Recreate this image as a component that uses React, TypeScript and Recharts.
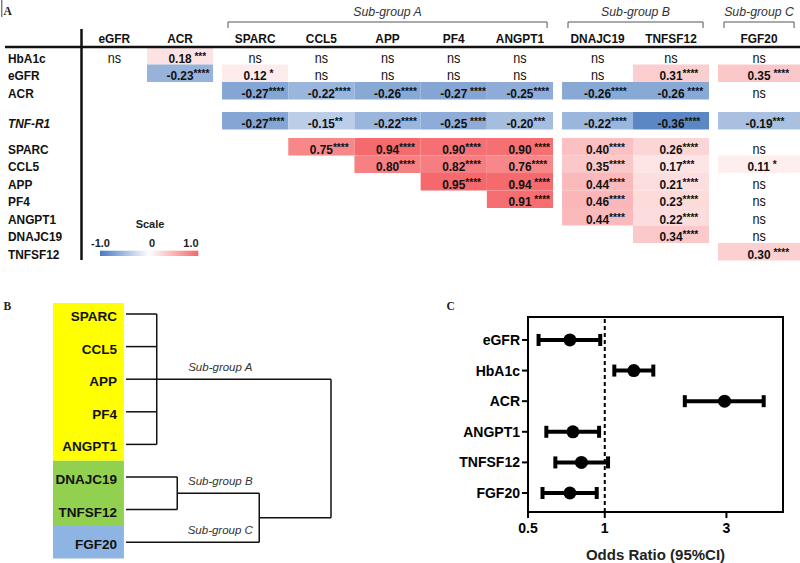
import React from 'react';
import { ScatterChart, Scatter, XAxis, YAxis, ReferenceArea, ReferenceLine, ErrorBar } from 'recharts';

const FONT = '"Liberation Sans", Arial, Helvetica, sans-serif';
const SERIF = '"Liberation Serif", "Times New Roman", serif';

// ================= Panel A data =================
const heatCols = ['eGFR', 'ACR', 'SPARC', 'CCL5', 'APP', 'PF4', 'ANGPT1', 'DNAJC19', 'TNFSF12', 'FGF20'];
const heatRows = ['HbA1c', 'eGFR', 'ACR', 'TNF-R1', 'SPARC', 'CCL5', 'APP', 'PF4', 'ANGPT1', 'DNAJC19', 'TNFSF12'];
const italicRows = ['TNF-R1'];
const subGroupTitles = ['Sub-group A', 'Sub-group B', 'Sub-group C'];
const subGroupFirstCol = ['SPARC', 'DNAJC19', 'FGF20'];
const subGroupLastCol = ['ANGPT1', 'TNFSF12', 'FGF20'];

// correlation coefficients (null = no coefficient shown)
const corrValues: (number | null)[][] = [
  [null, 0.18, null, null, null, null, null, null, null, null],
  [null, -0.23, 0.12, null, null, null, null, null, 0.31, 0.35],
  [null, null, -0.27, -0.22, -0.26, -0.27, -0.25, -0.26, -0.26, null],
  [null, null, -0.27, -0.15, -0.22, -0.25, -0.2, -0.22, -0.36, -0.19],
  [null, null, null, 0.75, 0.94, 0.9, 0.9, 0.4, 0.26, null],
  [null, null, null, null, 0.8, 0.82, 0.76, 0.35, 0.17, 0.11],
  [null, null, null, null, null, 0.95, 0.94, 0.44, 0.21, null],
  [null, null, null, null, null, null, 0.91, 0.46, 0.23, null],
  [null, null, null, null, null, null, null, 0.44, 0.22, null],
  [null, null, null, null, null, null, null, null, 0.34, null],
  [null, null, null, null, null, null, null, null, null, 0.3],
];
// significance marks ('' = empty cell, 'ns' = not significant)
const sigMarks: string[][] = [
  ['ns', ' ***', 'ns', 'ns', 'ns', 'ns', 'ns', 'ns', 'ns', 'ns'],
  ['', '****', ' *', 'ns', 'ns', 'ns', 'ns', 'ns', '****', ' ****'],
  ['', '', '****', '****', '****', ' ****', '****', '****', ' ****', 'ns'],
  ['', '', '****', '**', '****', ' ****', '***', '****', '****', '***'],
  ['', '', '', '****', '****', '****', ' ****', '****', '****', 'ns'],
  ['', '', '', '', '****', '****', '****', '****', '***', ' *'],
  ['', '', '', '', '', '****', ' ****', '****', '****', 'ns'],
  ['', '', '', '', '', '', ' ****', '****', '****', 'ns'],
  ['', '', '', '', '', '', '', '****', '****', 'ns'],
  ['', '', '', '', '', '', '', '', '****', 'ns'],
  ['', '', '', '', '', '', '', '', '', ' ****'],
];
const scaleTicks = ['-1.0', '0', '1.0'];

// ================= Panel B data =================
const dendroLeaves = ['SPARC', 'CCL5', 'APP', 'PF4', 'ANGPT1', 'DNAJC19', 'TNFSF12', 'FGF20'];
const leafSubgroup = ['A', 'A', 'A', 'A', 'A', 'B', 'B', 'C'];
const subgroupKeys = ['A', 'B', 'C'];
const subgroupNodes = ['A', 'B', 'FGF20'];
const clusterIds = ['A', 'B', 'BC', 'root'];
const clusterMembers = [
  ['SPARC', 'CCL5', 'APP', 'PF4', 'ANGPT1'],
  ['DNAJC19', 'TNFSF12'],
  ['B', 'FGF20'],
  ['A', 'BC'],
];
const clusterHeights = [0.15, 0.25, 0.65, 1.0];

// ================= Panel C data =================
const forestVars = ['eGFR', 'HbA1c', 'ACR', 'ANGPT1', 'TNFSF12', 'FGF20'];
const oddsRatio = [0.73, 1.3, 2.95, 0.75, 0.81, 0.73];
const ciLow = [0.55, 1.09, 2.06, 0.59, 0.64, 0.57];
const ciHigh = [0.96, 1.55, 4.2, 0.95, 1.03, 0.93];
const forestTicks = [0.5, 1, 3];

// ================= styles / layout =================
const BLUE = [74, 122, 191];
const RED = [245, 104, 107];
function corrColor(r: number) {
  const t = r < 0 ? Math.min(1, -r * 2.5) : Math.min(1, r * 1.05);
  const c = r < 0 ? BLUE : RED;
  const m = c.map((v) => Math.round(255 + (v - 255) * t));
  return `rgb(${m.join(',')})`;
}
function numEm(s: string) {
  let w = 0;
  for (const ch of s) w += ch === '.' ? 0.278 : ch === '-' ? 0.333 : 0.556;
  return w;
}

const A_W = 800;
const A_H = 270;
const UX = 66.2; // px per column unit
const UY = 17.5; // px per row unit
const COL_W_U = [0.99, 0.997, 1, 1, 1, 1, 1, 1.072, 1.148, 1.239];
const GROUP_GAP_U = 0.136;
const FIRST_COL_U = 81.5 / UX;
const FIRST_ROW_U = 47 / UY;
const ROW_GAP_U: Record<number, number> = { 3: 0.714, 4: 0.486 };
const SX = 0.88;

function HeatmapPanel() {
  const gapCols = subGroupFirstCol.map((c) => heatCols.indexOf(c));
  const colStart: number[] = [];
  let x = FIRST_COL_U;
  heatCols.forEach((_, i) => {
    if (gapCols.includes(i)) x += GROUP_GAP_U;
    colStart.push(x);
    x += COL_W_U[i];
  });
  const colEnd = colStart.map((s, i) => s + COL_W_U[i]);
  const colMid = colStart.map((s, i) => (s + colEnd[i]) / 2);
  const rowTop: number[] = [];
  let y = FIRST_ROW_U;
  heatRows.forEach((_, i) => {
    if (ROW_GAP_U[i]) y += ROW_GAP_U[i];
    rowTop.push(y);
    y += 1;
  });
  const rowMid = rowTop.map((t) => t + 0.5);

  const cells: { r: number | null; sig: string; ri: number; ci: number }[] = [];
  heatRows.forEach((_, ri) =>
    heatCols.forEach((__, ci) => {
      const sig = sigMarks[ri][ci];
      if (sig !== '') cells.push({ r: corrValues[ri][ci], sig, ri, ci });
    })
  );

  const headerPts = heatCols.map((name, i) => ({ x: colMid[i], y: 43.3 / UY, name }));
  const rowPts = heatRows.map((name, i) => ({ x: 8 / UX, y: rowMid[i], name }));
  const titlePts = subGroupTitles.map((name, k) => {
    const a = heatCols.indexOf(subGroupFirstCol[k]);
    const b = heatCols.indexOf(subGroupLastCol[k]);
    return { x: (colStart[a] + colEnd[b]) / 2, y: 16 / UY, name, a, b };
  });
  const brTop = 22 / UY;
  const brBot = 28 / UY;
  const inset = 0.09;

  const cellShape = (c: { r: number | null; sig: string }) => (p: any) => {
    const cx = p.x + p.width / 2;
    const base = p.y + p.height / 2 + 6.8;
    if (c.r === null) {
      return (
        <text
          transform={`translate(${cx},${base}) scale(0.9,1)`}
          textAnchor="middle"
          fontFamily={FONT}
          fontSize={14}
          fill="#111"
        >
          {c.sig}
        </text>
      );
    }
    const num = c.r.toFixed(2);
    const w = numEm(num) * 13.5 * SX;
    return (
      <g>
        <rect x={p.x} y={p.y} width={p.width} height={p.height} fill={corrColor(c.r)} />
        <text
          transform={`translate(${cx - w / 2},${base}) scale(${SX},1)`}
          fontFamily={FONT}
          fontSize={13.5}
          fontWeight={700}
          fill="#111"
          style={{ whiteSpace: 'pre' }}
        >
          {num}
          <tspan fontSize={11.5} dy={-3}>
            {c.sig}
          </tspan>
        </text>
      </g>
    );
  };

  return (
    <ScatterChart width={A_W} height={A_H} margin={{ top: 0, right: 0, bottom: 0, left: 0 }}>
      <XAxis type="number" dataKey="x" domain={[0, A_W / UX]} hide allowDataOverflow />
      <YAxis type="number" dataKey="y" domain={[0, A_H / UY]} hide reversed allowDataOverflow />
      {cells.map((c) => (
        <ReferenceArea
          key={`c${c.ri}-${c.ci}`}
          x1={colStart[c.ci]}
          x2={colEnd[c.ci]}
          y1={rowTop[c.ri]}
          y2={rowTop[c.ri] + 1}
          ifOverflow="visible"
          shape={cellShape(c)}
        />
      ))}
      {titlePts.map((t) => (
        <ReferenceLine
          key={`bt${t.name}`}
          segment={[
            { x: colStart[t.a] + inset, y: brTop },
            { x: colEnd[t.b] - inset, y: brTop },
          ]}
          stroke="#555"
          strokeWidth={1}
          ifOverflow="visible"
        />
      ))}
      {titlePts.map((t) => (
        <ReferenceLine
          key={`bl${t.name}`}
          segment={[
            { x: colStart[t.a] + inset, y: brTop },
            { x: colStart[t.a] + inset, y: brBot },
          ]}
          stroke="#555"
          strokeWidth={1}
          ifOverflow="visible"
        />
      ))}
      {titlePts.map((t) => (
        <ReferenceLine
          key={`br${t.name}`}
          segment={[
            { x: colEnd[t.b] - inset, y: brTop },
            { x: colEnd[t.b] - inset, y: brBot },
          ]}
          stroke="#555"
          strokeWidth={1}
          ifOverflow="visible"
        />
      ))}
      <ReferenceLine
        segment={[
          { x: 5 / UX, y: FIRST_ROW_U },
          { x: A_W / UX, y: FIRST_ROW_U },
        ]}
        stroke="#111"
        strokeWidth={2.5}
        ifOverflow="visible"
      />
      <ReferenceLine
        segment={[
          { x: FIRST_COL_U, y: 29 / UY },
          { x: FIRST_COL_U, y: 260 / UY },
        ]}
        stroke="#111"
        strokeWidth={2.5}
        ifOverflow="visible"
      />
      <Scatter
        data={headerPts}
        isAnimationActive={false}
        shape={(p: any) => (
          <text
            transform={`translate(${p.cx},${p.cy}) scale(${SX},1)`}
            textAnchor="middle"
            fontFamily={FONT}
            fontSize={13.5}
            fontWeight={700}
            fill="#111"
          >
            {p.payload.name}
          </text>
        )}
      />
      <Scatter
        data={rowPts}
        isAnimationActive={false}
        shape={(p: any) => (
          <text
            transform={`translate(${p.cx},${p.cy + 6.8}) scale(${SX},1)`}
            fontFamily={FONT}
            fontSize={13.5}
            fontWeight={700}
            fontStyle={italicRows.includes(p.payload.name) ? 'italic' : 'normal'}
            fill="#111"
          >
            {p.payload.name}
          </text>
        )}
      />
      <Scatter
        data={titlePts}
        isAnimationActive={false}
        shape={(p: any) => (
          <text
            x={p.cx}
            y={p.cy}
            textAnchor="middle"
            fontFamily={FONT}
            fontSize={12.3}
            fontStyle="italic"
            fill="#333"
          >
            {p.payload.name}
          </text>
        )}
      />
    </ScatterChart>
  );
}

// ================= Panel B =================
const B_W = 400;
const B_H = 273;
const LEAF_STEP = 32.6;
const FIRST_LEAF_PX = 24;
const BOX_X0 = -0.356;
const BOX_X1 = -0.01;
const SUBGROUP_COLORS: Record<string, string> = { A: '#ffff00', B: '#92d050', C: '#8db4e2' };

function DendroPanel() {
  const nodeY: Record<string, number> = {};
  const nodeH: Record<string, number> = {};
  dendroLeaves.forEach((n, i) => {
    nodeY[n] = i;
    nodeH[n] = 0;
  });
  clusterIds.forEach((id, k) => {
    const ys = clusterMembers[k].map((m) => nodeY[m]);
    nodeY[id] = ys.reduce((a, b) => a + b, 0) / ys.length;
    nodeH[id] = clusterHeights[k];
  });
  const segs: { x: number; y: number }[][] = [];
  clusterIds.forEach((id, k) => {
    const ms = clusterMembers[k];
    const ys = ms.map((m) => nodeY[m]);
    const h = nodeH[id];
    segs.push([
      { x: h, y: Math.min(...ys) },
      { x: h, y: Math.max(...ys) },
    ]);
    ms.forEach((m) =>
      segs.push([
        { x: nodeH[m], y: nodeY[m] },
        { x: h, y: nodeY[m] },
      ])
    );
  });
  const boxes = subgroupKeys.map((g, k) => {
    const idx = leafSubgroup.map((s, i) => (s === g ? i : -1)).filter((i) => i >= 0);
    const first = Math.min(...idx);
    const last = Math.max(...idx);
    return { g, y1: k === 0 ? first - 0.34 : first - 0.5, y2: last + 0.5 };
  });
  const leafPts = dendroLeaves.map((name, i) => ({ x: -0.044, y: i, name }));
  const subPts = subgroupNodes.map((n, k) => ({ x: 0.46, y: nodeY[n], name: subGroupTitles[k] }));
  const yMin = -FIRST_LEAF_PX / LEAF_STEP;
  const yMax = (B_H - FIRST_LEAF_PX) / LEAF_STEP;

  return (
    <ScatterChart width={B_W} height={B_H} margin={{ top: 0, right: 69, bottom: 0, left: 53 }}>
      <XAxis type="number" dataKey="x" domain={[BOX_X0, 1]} hide allowDataOverflow />
      <YAxis type="number" dataKey="y" domain={[yMin, yMax]} hide reversed allowDataOverflow />
      {boxes.map((b) => (
        <ReferenceArea
          key={b.g}
          x1={BOX_X0}
          x2={BOX_X1}
          y1={b.y1}
          y2={b.y2}
          fill={SUBGROUP_COLORS[b.g]}
          fillOpacity={1}
          stroke="none"
          ifOverflow="visible"
        />
      ))}
      {segs.map((s, i) => (
        <ReferenceLine key={i} segment={s} stroke="#111" strokeWidth={1.5} ifOverflow="visible" />
      ))}
      <Scatter
        data={leafPts}
        isAnimationActive={false}
        shape={(p: any) => (
          <text
            x={p.cx}
            y={p.cy + 7}
            textAnchor="end"
            fontFamily={FONT}
            fontSize={13.5}
            fontWeight={700}
            fill="#111"
          >
            {p.payload.name}
          </text>
        )}
      />
      <Scatter
        data={subPts}
        isAnimationActive={false}
        shape={(p: any) => (
          <text
            x={p.cx}
            y={p.cy - 8.5}
            textAnchor="middle"
            fontFamily={FONT}
            fontSize={11.5}
            fontStyle="italic"
            fill="#333"
          >
            {p.payload.name}
          </text>
        )}
      />
    </ScatterChart>
  );
}

// ================= Panel C =================
function ForestPanel() {
  const data = forestVars.map((name, i) => ({
    idx: i,
    name,
    or: oddsRatio[i],
    err: [oddsRatio[i] - ciLow[i], ciHigh[i] - oddsRatio[i]],
  }));
  const tickStyle = { fill: '#000', fontSize: 14, fontWeight: 700, fontFamily: FONT };
  return (
    <ScatterChart width={400} height={273} margin={{ top: 27, right: 17, bottom: 0, left: 0 }}>
      <ReferenceArea
        x1={0.5}
        x2={5}
        y1={-0.75}
        y2={5.62}
        fill="none"
        fillOpacity={0}
        stroke="#000"
        strokeWidth={2}
        ifOverflow="visible"
      />
      <XAxis
        type="number"
        dataKey="or"
        scale="log"
        domain={[0.5, 5]}
        ticks={forestTicks}
        allowDataOverflow
        height={51}
        axisLine={{ stroke: '#000', strokeWidth: 2 }}
        tickLine={{ stroke: '#000', strokeWidth: 2 }}
        tickSize={6}
        tickMargin={5}
        tick={tickStyle}
        label={{
          value: 'Odds Ratio (95%CI)',
          position: 'insideBottom',
          offset: 3,
          fill: '#222',
          fontSize: 15,
          fontWeight: 700,
          fontFamily: FONT,
        }}
      />
      <YAxis
        type="number"
        dataKey="idx"
        domain={[-0.75, 5.62]}
        reversed
        allowDataOverflow
        ticks={[0, 1, 2, 3, 4, 5]}
        tickFormatter={(v: number) => forestVars[v]}
        width={128}
        axisLine={{ stroke: '#000', strokeWidth: 2 }}
        tickLine={{ stroke: '#000', strokeWidth: 2 }}
        tickSize={6}
        tickMargin={2}
        tick={tickStyle}
      />
      <ReferenceLine x={1} stroke="#000" strokeWidth={2} strokeDasharray="4 3" />
      <Scatter
        data={data}
        isAnimationActive={false}
        shape={(p: any) => <circle cx={p.cx} cy={p.cy} r={6.5} fill="#000" />}
      >
        <ErrorBar dataKey="err" direction="x" width={6} strokeWidth={4} stroke="#000" isAnimationActive={false} />
      </Scatter>
    </ScatterChart>
  );
}

export default function App() {
  return (
    <div style={{ position: 'absolute', left: 0, top: 0, width: 800, height: 563, background: '#fff', overflow: 'hidden' }}>
      <div style={{ position: 'absolute', left: 0, top: 0 }}>
        <HeatmapPanel />
      </div>
      <div style={{ position: 'absolute', left: 0, top: 290 }}>
        <DendroPanel />
      </div>
      <div style={{ position: 'absolute', left: 400, top: 290 }}>
        <ForestPanel />
      </div>
      <svg width={800} height={563} style={{ position: 'absolute', left: 0, top: 0, pointerEvents: 'none' }}>
        <defs>
          <linearGradient id="scaleGrad" x1="0" x2="1" y1="0" y2="0">
            <stop offset="0%" stopColor={`rgb(${BLUE.join(',')})`} />
            <stop offset="50%" stopColor="#ffffff" />
            <stop offset="100%" stopColor={`rgb(${RED.join(',')})`} />
          </linearGradient>
        </defs>
        <line x1={1.8} y1={0} x2={1.8} y2={17} stroke="#444" strokeWidth={1} />
        <text x={3.5} y={15} fontFamily={SERIF} fontWeight={700} fontSize={11.5} fill="#222">A</text>
        <text x={3.5} y={310} fontFamily={SERIF} fontWeight={700} fontSize={11.5} fill="#222">B</text>
        <text x={446.5} y={310} fontFamily={SERIF} fontWeight={700} fontSize={11.5} fill="#222">C</text>
        <text x={150} y={228} textAnchor="middle" fontFamily={FONT} fontWeight={700} fontSize={11} fill="#222">Scale</text>
        <text x={100.5} y={246.5} textAnchor="middle" fontFamily={FONT} fontWeight={700} fontSize={11} fill="#222">{scaleTicks[0]}</text>
        <text x={152} y={246.5} textAnchor="middle" fontFamily={FONT} fontWeight={700} fontSize={11} fill="#222">{scaleTicks[1]}</text>
        <text x={191} y={246.5} textAnchor="middle" fontFamily={FONT} fontWeight={700} fontSize={11} fill="#222">{scaleTicks[2]}</text>
        <rect x={100} y={250.7} width={98.3} height={5.3} fill="url(#scaleGrad)" />
      </svg>
    </div>
  );
}
